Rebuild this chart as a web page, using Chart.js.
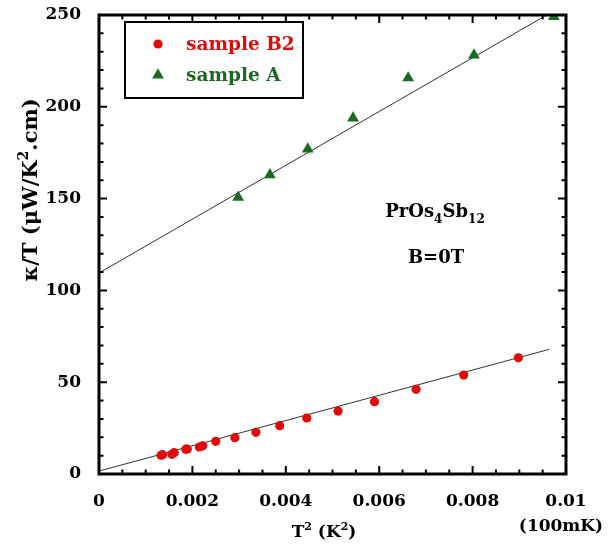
<!DOCTYPE html>
<html>
<head>
<meta charset="utf-8">
<script src="https://cdn.jsdelivr.net/npm/chart.js@4/dist/chart.umd.min.js"></script>
<style>
  body { margin: 0; background: #fff; }
  canvas { display: block; }
</style>
</head>
<body>
<canvas id="myChart" width="609" height="544"></canvas>
<script>
// data
const b2X = [0.00133, 0.00136, 0.00156, 0.00161, 0.00186, 0.00189, 0.00215, 0.00222, 0.00250, 0.00291, 0.00336, 0.00387, 0.00445, 0.00512, 0.00590, 0.00679, 0.00781, 0.00898];
const b2Y = [10.2, 10.5, 10.7, 11.6, 13.5, 13.6, 14.7, 15.4, 17.8, 19.8, 22.7, 26.3, 30.5, 34.3, 39.4, 46.1, 53.9, 63.3];
const aX = [0.00298, 0.00366, 0.00447, 0.00544, 0.00662, 0.00803, 0.00974];
const aY = [150.7, 163.0, 177.0, 193.9, 215.7, 228.2, 249.1];
// straight line fits
const fitBX = [0, 0.00964];
const fitBY = [1.6, 67.9];
const fitAX = [0, 0.00969];
const fitAY = [109.5, 251.5];

const xTicks = [0, 0.002, 0.004, 0.006, 0.008, 0.01];
const yTicks = [0, 50, 100, 150, 200, 250];

const red = '#e00a0a';
const green = '#196a22';
const FONT = "'DejaVu Serif', serif";

let pts = (xs, ys) => xs.map((x, i) => ({ x: x, y: ys[i] }));

// draws text with sup/sub parts, centred on x
function richText(ctx, parts, x, y, size) {
    let small = Math.round(size * 0.65);
    let w = 0;
    parts.forEach(p => {
        ctx.font = 'bold ' + (p[1] ? small : size) + 'px ' + FONT;
        w += ctx.measureText(p[0]).width;
    });
    let cx = x - w / 2;
    ctx.textAlign = 'left';
    parts.forEach(p => {
        ctx.font = 'bold ' + (p[1] ? small : size) + 'px ' + FONT;
        let dy = 0;
        if (p[1] == 'sup') dy = -size * 0.42;
        if (p[1] == 'sub') dy = size * 0.32;
        ctx.fillText(p[0], cx, y + dy);
        cx += ctx.measureText(p[0]).width;
    });
}

const frame = {
    id: 'frame',
    afterDatasetsDraw(chart) {
        const ctx = chart.ctx;
        const a = chart.chartArea;
        const xs = chart.scales.x;
        const ys = chart.scales.y;
        ctx.save();
        ctx.strokeStyle = '#000';
        ctx.lineWidth = 3;
        ctx.strokeRect(a.left, a.top, a.right - a.left, a.bottom - a.top);

        // inside ticks, all four sides
        ctx.lineWidth = 2;
        ctx.beginPath();
        for (let i = 0; i <= 20; i++) {
            let px = xs.getPixelForValue(i * 0.0005);
            let len = i % 4 == 0 ? 8 : 4.5;
            ctx.moveTo(px, a.bottom); ctx.lineTo(px, a.bottom - len);
            ctx.moveTo(px, a.top); ctx.lineTo(px, a.top + len);
        }
        for (let i = 0; i <= 25; i++) {
            let py = ys.getPixelForValue(i * 10);
            let len = i % 5 == 0 ? 8 : 4.5;
            ctx.moveTo(a.left, py); ctx.lineTo(a.left + len, py);
            ctx.moveTo(a.right, py); ctx.lineTo(a.right - len, py);
        }
        ctx.stroke();

        // legend box
        ctx.lineWidth = 2;
        let lx = a.left + 26, ly = a.top + 7;
        ctx.strokeRect(lx, ly, 178, 76);
        const ds = chart.data.datasets;
        [[ds[0], ly + 22], [ds[1], ly + 53]].forEach(item => {
            let d = item[0];
            ctx.fillStyle = d.backgroundColor;
            ctx.strokeStyle = d.backgroundColor;
            Chart.helpers.drawPoint(ctx, { pointStyle: d.pointStyle, radius: d.pointRadius, rotation: 0, borderWidth: 0 }, lx + 33, item[1]);
            ctx.font = 'bold 18.5px ' + FONT;
            ctx.textAlign = 'left';
            ctx.textBaseline = 'middle';
            ctx.fillText(d.label, lx + 61, item[1] + 1);
        });

        // compound label
        ctx.fillStyle = '#000';
        ctx.textBaseline = 'alphabetic';
        richText(ctx, [['PrOs'], ['4', 'sub'], ['Sb'], ['12', 'sub']], 435, 217, 18);
        richText(ctx, [['B=0T']], 436, 263, 18);

        // axis titles
        richText(ctx, [['T'], ['2', 'sup'], [' (K'], ['2', 'sup'], [')']], 324, 537, 17);
        richText(ctx, [['(100mK)']], 561, 531, 17);
        ctx.translate(37, 190);
        ctx.rotate(-Math.PI / 2);
        richText(ctx, [['κ/T (μW/K'], ['2', 'sup'], ['.cm)']], 0, 0, 21);
        ctx.restore();
    }
};

const chart = document.querySelector('#myChart').getContext('2d');
const myChart = new Chart(chart, {
    type: 'scatter',
    data: {
        datasets: [
            { label: 'sample B2', data: pts(b2X, b2Y), pointStyle: 'circle', pointRadius: 4.6, backgroundColor: red, borderWidth: 0 },
            { label: 'sample A', data: pts(aX, aY), pointStyle: 'triangle', pointRadius: 6.8, backgroundColor: green, borderWidth: 0 },
            { label: 'fit B2', data: pts(fitBX, fitBY), showLine: true, pointRadius: 0, borderColor: '#333', borderWidth: 1 },
            { label: 'fit A', data: pts(fitAX, fitAY), showLine: true, pointRadius: 0, borderColor: '#333', borderWidth: 1 }
        ]
    },
    options: {
        responsive: false,
        animation: false,
        events: [],
        layout: { padding: { top: 15, right: 43, left: 0, bottom: 0 } },
        plugins: { legend: { display: false }, tooltip: { enabled: false } },
        scales: {
            x: {
                type: 'linear', min: 0, max: 0.01,
                grid: { display: false }, border: { display: false },
                afterFit: s => { s.height = 70; s.paddingLeft = 0; s.paddingRight = 0; },
                afterBuildTicks: s => { s.ticks = xTicks.map(v => ({ value: v })); },
                ticks: {
                    padding: 9, color: '#000', maxRotation: 0,
                    font: { family: FONT, size: 17, weight: 'bold' },
                    callback: v => v == 0 ? '0' : String(+v.toFixed(3))
                }
            },
            y: {
                type: 'linear', min: 0, max: 250,
                grid: { display: false }, border: { display: false },
                afterFit: s => { s.width = 99; s.paddingTop = 0; s.paddingBottom = 0; },
                afterBuildTicks: s => { s.ticks = yTicks.map(v => ({ value: v })); },
                ticks: {
                    padding: 10, color: '#000',
                    font: { family: FONT, size: 17, weight: 'bold' }
                }
            }
        }
    },
    plugins: [frame]
});
</script>
</body>
</html>
